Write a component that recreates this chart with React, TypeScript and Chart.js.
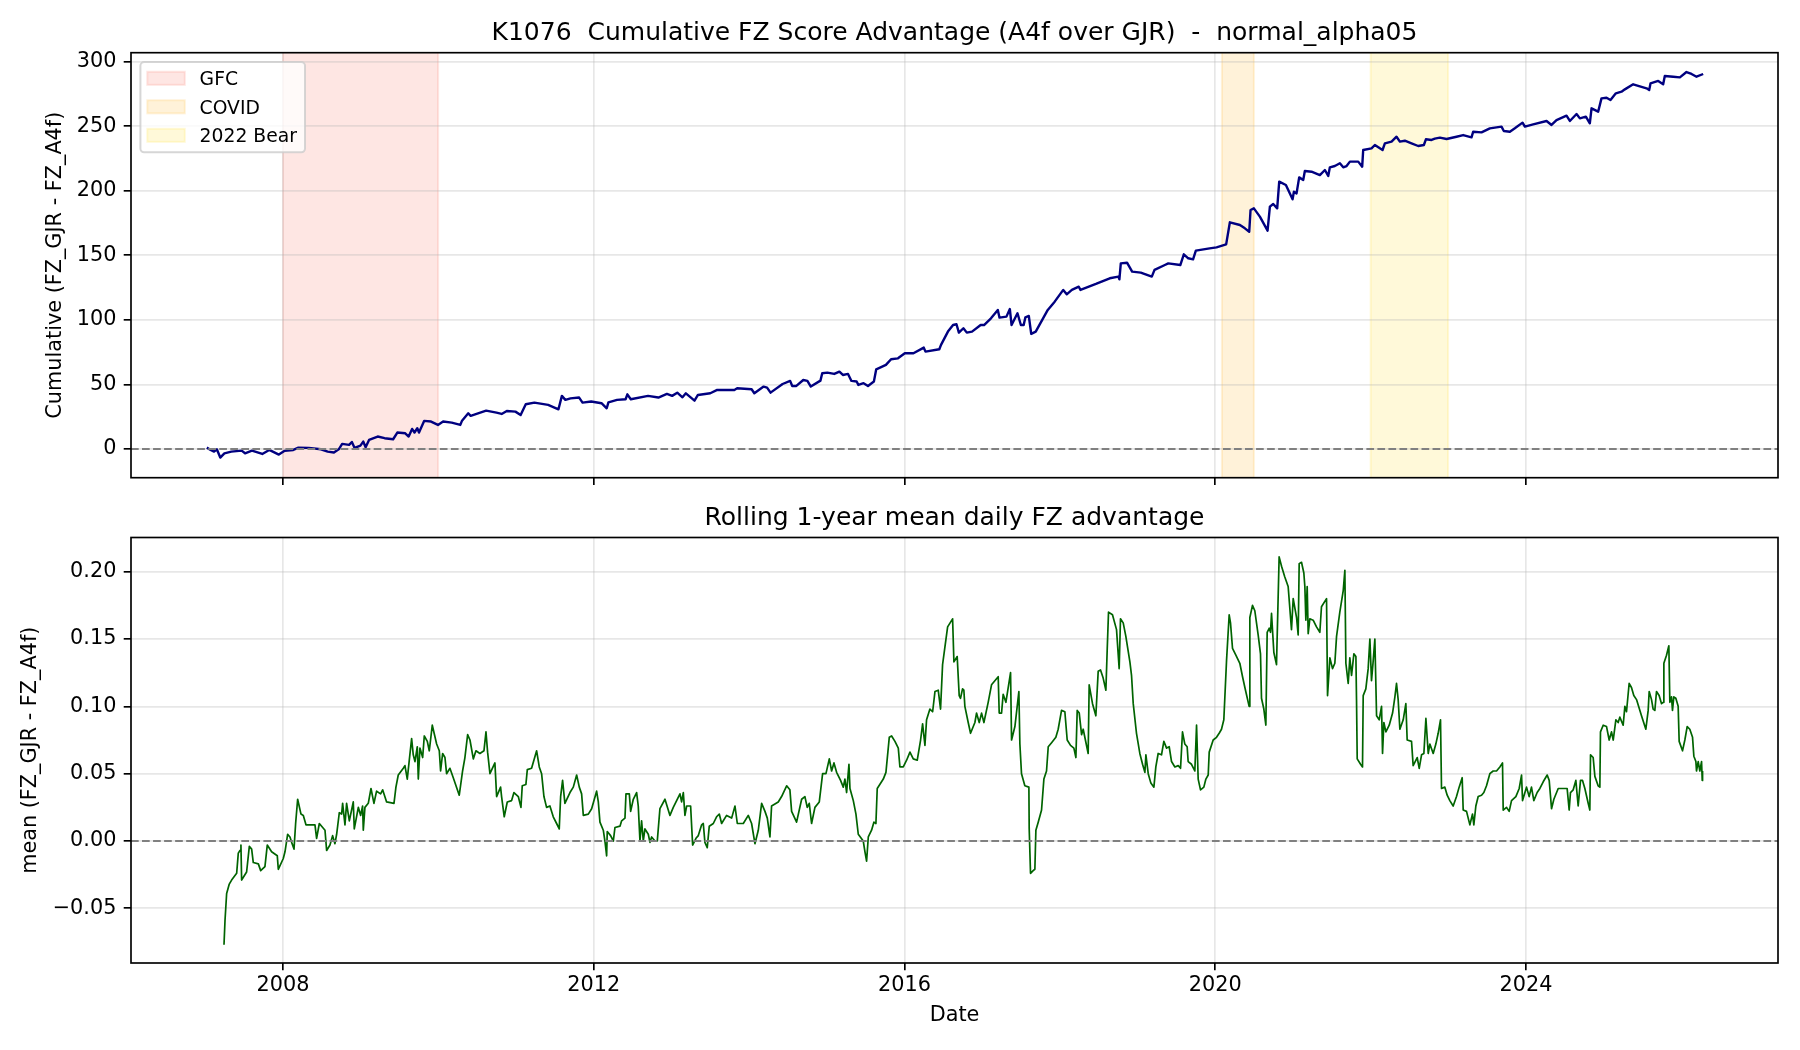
import React, { useEffect, useRef } from "react";
import { Chart, registerables } from "chart.js";

Chart.register(...registerables);

const FONT_FAMILY = "'DejaVu Sans', 'Liberation Sans', sans-serif";
const GRID_COLOR = "rgba(176,176,176,0.3)";

// Shared x axis: decimal years
const xRange = [2006.044, 2027.243];
const xTickValues = [2008, 2012, 2016, 2020, 2024];
const xTickLabels = ["2008", "2012", "2016", "2020", "2024"];

// Upper panel y axis
const cumRange = [-22.3, 307.0];
const cumTickValues = [0, 50, 100, 150, 200, 250, 300];
const cumTickLabels = ["0", "50", "100", "150", "200", "250", "300"];

// Lower panel y axis
const rollRange = [-0.0906, 0.2254];
const rollTickValues = [-0.05, 0, 0.05, 0.1, 0.15, 0.2];
const rollTickLabels = ["\u22120.05", "0.00", "0.05", "0.10", "0.15", "0.20"];

// Shaded market regimes
const spanLabels = ["GFC", "COVID", "2022 Bear"];
const spanStarts = [2008.0, 2020.085, 2022.0];
const spanEnds = [2009.997, 2020.497, 2022.997];
const spanColors = ["rgba(250,128,114,0.2)", "rgba(255,165,0,0.15)", "rgba(255,215,0,0.15)"];

// Cumulative FZ advantage
const cumYears = [
  2007.02, 2007.069, 2007.113, 2007.149, 2007.193, 2007.246, 2007.335, 2007.468, 2007.512, 2007.601,
  2007.734, 2007.823, 2007.947, 2008.022, 2008.133, 2008.199, 2008.332, 2008.488, 2008.576, 2008.656,
  2008.718, 2008.762, 2008.851, 2008.887, 2008.922, 2008.997, 2009.033, 2009.064, 2009.108, 2009.219,
  2009.308, 2009.418, 2009.472, 2009.574, 2009.618, 2009.662, 2009.693, 2009.729, 2009.751, 2009.817,
  2009.906, 2009.995, 2010.061, 2010.172, 2010.283, 2010.305, 2010.385, 2010.416, 2010.615, 2010.748,
  2010.815, 2010.881, 2010.992, 2011.059, 2011.125, 2011.236, 2011.413, 2011.546, 2011.59, 2011.635,
  2011.701, 2011.812, 2011.856, 2011.967, 2012.1, 2012.167, 2012.189, 2012.3, 2012.41, 2012.433,
  2012.477, 2012.699, 2012.832, 2012.942, 2013.009, 2013.075, 2013.142, 2013.186, 2013.297, 2013.341,
  2013.5, 2013.589, 2013.81, 2013.846, 2014.032, 2014.067, 2014.187, 2014.231, 2014.276, 2014.431,
  2014.528, 2014.555, 2014.608, 2014.697, 2014.75, 2014.794, 2014.918, 2014.941, 2015.007, 2015.096,
  2015.162, 2015.207, 2015.273, 2015.317, 2015.384, 2015.406, 2015.473, 2015.53, 2015.606, 2015.636,
  2015.761, 2015.827, 2015.916, 2016.004, 2016.115, 2016.248, 2016.27, 2016.448, 2016.47, 2016.559,
  2016.625, 2016.669, 2016.7, 2016.758, 2016.802, 2016.869, 2016.98, 2017.024, 2017.113, 2017.201,
  2017.223, 2017.312, 2017.356, 2017.378, 2017.454, 2017.498, 2017.534, 2017.556, 2017.6, 2017.631,
  2017.689, 2017.844, 2017.933, 2018.043, 2018.088, 2018.154, 2018.243, 2018.265, 2018.464, 2018.642,
  2018.753, 2018.766, 2018.784, 2018.864, 2018.93, 2019.041, 2019.183, 2019.218, 2019.351, 2019.395,
  2019.55, 2019.595, 2019.652, 2019.714, 2019.75, 2019.927, 2020.016, 2020.14, 2020.188, 2020.317,
  2020.381, 2020.437, 2020.454, 2020.497, 2020.574, 2020.673, 2020.703, 2020.746, 2020.797, 2020.823,
  2020.909, 2020.995, 2021.012, 2021.046, 2021.08, 2021.132, 2021.153, 2021.239, 2021.346, 2021.411,
  2021.454, 2021.475, 2021.539, 2021.604, 2021.647, 2021.69, 2021.733, 2021.84, 2021.891, 2021.904,
  2022.011, 2022.054, 2022.153, 2022.183, 2022.269, 2022.333, 2022.376, 2022.44, 2022.526, 2022.612,
  2022.685, 2022.711, 2022.784, 2022.826, 2022.891, 2022.977, 2023.105, 2023.191, 2023.298, 2023.32,
  2023.427, 2023.534, 2023.684, 2023.714, 2023.792, 2023.856, 2023.955, 2023.985, 2024.092, 2024.264,
  2024.328, 2024.392, 2024.521, 2024.564, 2024.65, 2024.693, 2024.77, 2024.821, 2024.843, 2024.928,
  2024.971, 2025.036, 2025.087, 2025.156, 2025.229, 2025.272, 2025.379, 2025.551, 2025.585, 2025.602,
  2025.701, 2025.765, 2025.786, 2025.894, 2025.98, 2026.065, 2026.13, 2026.194, 2026.28,
];
const cumValues = [
  1.0, -0.8, -2.1, -0.3, -6.7, -3.4, -2.1, -1.3, -3.4, -1.3,
  -3.9, -0.8, -4.4, -1.5, -0.8, 1.0, 0.8, -0.3, -2.1, -2.8,
  -0.3, 3.9, 3.1, 5.4, 0.8, 2.6, 5.7, 1.3, 7.0, 9.6,
  8.3, 7.5, 12.7, 12.1, 9.6, 15.5, 12.7, 16.0, 12.7, 21.7,
  21.2, 18.6, 21.2, 20.4, 18.6, 21.9, 27.6, 25.6, 29.7, 28.1,
  27.1, 29.4, 28.9, 26.3, 34.6, 35.9, 34.1, 30.7, 41.1, 38.0,
  39.2, 39.8, 35.9, 36.7, 35.4, 31.5, 36.1, 38.0, 38.5, 42.3,
  38.5, 41.1, 39.8, 42.6, 41.1, 43.6, 40.0, 43.1, 37.4, 41.8,
  43.1, 45.7, 45.7, 47.0, 46.2, 43.1, 48.3, 47.5, 43.6, 50.3,
  52.7, 48.8, 48.8, 53.4, 52.7, 48.3, 52.9, 58.6, 59.1, 58.1,
  59.9, 57.3, 58.1, 52.7, 52.2, 49.6, 50.9, 48.8, 52.2, 61.7,
  65.1, 69.5, 70.2, 74.1, 74.1, 78.5, 75.4, 77.2, 80.6, 90.9,
  96.0, 96.6, 90.1, 93.5, 90.1, 90.9, 96.0, 96.0, 101.2, 107.7,
  101.7, 102.5, 108.4, 96.0, 105.1, 96.0, 96.0, 102.0, 103.0, 89.1,
  90.9, 107.7, 114.1, 123.2, 119.8, 123.2, 125.7, 123.2, 127.8, 132.2,
  133.5, 131.4, 143.8, 144.3, 137.4, 136.6, 133.5, 138.7, 142.5, 143.8,
  142.5, 150.8, 147.7, 146.9, 153.6, 155.4, 156.2, 158.5, 175.6, 173.5,
  170.9, 168.3, 185.1, 186.4, 180.0, 169.1, 187.7, 189.8, 186.4, 207.1,
  204.5, 193.4, 199.3, 198.0, 210.4, 208.4, 215.3, 214.8, 212.2, 216.1,
  211.5, 218.2, 219.2, 221.3, 218.2, 219.2, 222.6, 222.6, 218.7, 231.6,
  232.9, 235.5, 231.6, 236.8, 238.1, 241.9, 238.1, 238.8, 236.8, 234.7,
  235.5, 239.9, 239.4, 240.4, 241.2, 240.1, 241.9, 243.2, 241.4, 245.8,
  245.3, 248.4, 249.7, 246.3, 245.8, 248.4, 252.8, 249.7, 251.5, 254.1,
  251.0, 254.8, 258.2, 254.1, 259.5, 256.1, 257.4, 252.3, 263.9, 261.3,
  271.6, 272.1, 270.3, 275.5, 276.8, 278.6, 282.5, 279.4, 278.1, 283.2,
  285.1, 282.5, 288.9, 288.4, 287.9, 292.0, 290.5, 288.4, 290.5,
];

// Rolling 1-year mean of the daily FZ advantage
const rollYears = [
  2007.241, 2007.254, 2007.275, 2007.309, 2007.339, 2007.404, 2007.425, 2007.447, 2007.459, 2007.468,
  2007.532, 2007.567, 2007.597, 2007.618, 2007.683, 2007.713, 2007.768, 2007.798, 2007.854, 2007.927,
  2007.94, 2008.004, 2008.026, 2008.06, 2008.09, 2008.112, 2008.142, 2008.163, 2008.189, 2008.232,
  2008.262, 2008.296, 2008.412, 2008.433, 2008.468, 2008.541, 2008.562, 2008.605, 2008.639, 2008.669,
  2008.691, 2008.725, 2008.755, 2008.768, 2008.798, 2008.819, 2008.854, 2008.905, 2008.918, 2008.97,
  2009.0, 2009.025, 2009.034, 2009.055, 2009.098, 2009.133, 2009.171, 2009.205, 2009.257, 2009.283,
  2009.334, 2009.429, 2009.454, 2009.484, 2009.549, 2009.57, 2009.6, 2009.626, 2009.656, 2009.677,
  2009.699, 2009.729, 2009.742, 2009.763, 2009.798, 2009.819, 2009.858, 2009.883, 2009.922, 2009.978,
  2010.012, 2010.029, 2010.055, 2010.085, 2010.106, 2010.149, 2010.192, 2010.269, 2010.312, 2010.342,
  2010.377, 2010.407, 2010.45, 2010.484, 2010.535, 2010.587, 2010.613, 2010.634, 2010.664, 2010.728,
  2010.75, 2010.801, 2010.814, 2010.848, 2010.887, 2010.943, 2010.973, 2011.029, 2011.063, 2011.08,
  2011.127, 2011.145, 2011.2, 2011.265, 2011.299, 2011.329, 2011.359, 2011.393, 2011.436, 2011.479,
  2011.522, 2011.556, 2011.574, 2011.599, 2011.629, 2011.694, 2011.737, 2011.78, 2011.814, 2011.844,
  2011.866, 2011.93, 2011.973, 2012.037, 2012.059, 2012.08, 2012.123, 2012.144, 2012.166, 2012.174,
  2012.217, 2012.252, 2012.273, 2012.338, 2012.359, 2012.402, 2012.415, 2012.458, 2012.475, 2012.509,
  2012.552, 2012.573, 2012.595, 2012.616, 2012.638, 2012.659, 2012.702, 2012.724, 2012.745, 2012.788,
  2012.818, 2012.852, 2012.917, 2012.981, 2013.024, 2013.075, 2013.11, 2013.131, 2013.153, 2013.174,
  2013.196, 2013.247, 2013.273, 2013.316, 2013.346, 2013.389, 2013.41, 2013.431, 2013.461, 2013.487,
  2013.539, 2013.581, 2013.616, 2013.646, 2013.71, 2013.775, 2013.818, 2013.848, 2013.925, 2013.989,
  2014.032, 2014.075, 2014.118, 2014.161, 2014.204, 2014.234, 2014.268, 2014.289, 2014.375, 2014.418,
  2014.483, 2014.525, 2014.547, 2014.611, 2014.676, 2014.718, 2014.748, 2014.774, 2014.804, 2014.847,
  2014.903, 2014.946, 2014.989, 2015.032, 2015.062, 2015.092, 2015.126, 2015.177, 2015.212, 2015.233,
  2015.255, 2015.285, 2015.298, 2015.341, 2015.375, 2015.405, 2015.469, 2015.491, 2015.512, 2015.534,
  2015.576, 2015.606, 2015.632, 2015.649, 2015.727, 2015.761, 2015.804, 2015.834, 2015.877, 2015.92,
  2015.941, 2015.984, 2016.027, 2016.07, 2016.113, 2016.164, 2016.207, 2016.233, 2016.263, 2016.284,
  2016.327, 2016.362, 2016.392, 2016.434, 2016.464, 2016.49, 2016.52, 2016.555, 2016.619, 2016.636,
  2016.678, 2016.704, 2016.721, 2016.747, 2016.764, 2016.777, 2016.82, 2016.85, 2016.906, 2016.927,
  2016.962, 2016.992, 2017.022, 2017.077, 2017.12, 2017.206, 2017.219, 2017.249, 2017.27, 2017.305,
  2017.365, 2017.378, 2017.421, 2017.472, 2017.485, 2017.506, 2017.549, 2017.601, 2017.605, 2017.622,
  2017.656, 2017.678, 2017.691, 2017.721, 2017.764, 2017.794, 2017.828, 2017.85, 2017.893, 2017.948,
  2017.978, 2018.021, 2018.064, 2018.094, 2018.137, 2018.18, 2018.206, 2018.223, 2018.249, 2018.279,
  2018.3, 2018.364, 2018.377, 2018.42, 2018.463, 2018.493, 2018.523, 2018.557, 2018.592, 2018.609,
  2018.626, 2018.677, 2018.729, 2018.763, 2018.78, 2018.815, 2018.849, 2018.901, 2018.922, 2018.944,
  2018.986, 2019.029, 2019.064, 2019.094, 2019.107, 2019.137, 2019.171, 2019.21, 2019.235, 2019.265,
  2019.308, 2019.338, 2019.373, 2019.407, 2019.437, 2019.48, 2019.523, 2019.553, 2019.578, 2019.608,
  2019.638, 2019.651, 2019.694, 2019.737, 2019.759, 2019.78, 2019.81, 2019.853, 2019.879, 2019.909,
  2019.922, 2019.973, 2020.016, 2020.05, 2020.08, 2020.11, 2020.145, 2020.179, 2020.196, 2020.222,
  2020.265, 2020.316, 2020.351, 2020.381, 2020.436, 2020.445, 2020.479, 2020.509, 2020.552, 2020.582,
  2020.595, 2020.625, 2020.651, 2020.668, 2020.694, 2020.711, 2020.724, 2020.754, 2020.788, 2020.822,
  2020.853, 2020.895, 2020.938, 2020.981, 2021.003, 2021.046, 2021.067, 2021.08, 2021.11, 2021.14,
  2021.153, 2021.166, 2021.183, 2021.196, 2021.217, 2021.26, 2021.303, 2021.346, 2021.367, 2021.432,
  2021.445, 2021.475, 2021.509, 2021.539, 2021.561, 2021.603, 2021.647, 2021.668, 2021.681, 2021.711,
  2021.732, 2021.754, 2021.784, 2021.81, 2021.818, 2021.827, 2021.87, 2021.895, 2021.904, 2021.938,
  2021.968, 2021.99, 2022.011, 2022.033, 2022.054, 2022.076, 2022.11, 2022.14, 2022.153, 2022.17,
  2022.196, 2022.239, 2022.282, 2022.312, 2022.333, 2022.354, 2022.376, 2022.419, 2022.453, 2022.47,
  2022.526, 2022.547, 2022.599, 2022.625, 2022.655, 2022.685, 2022.711, 2022.741, 2022.762, 2022.805,
  2022.839, 2022.869, 2022.899, 2022.912, 2022.955, 2022.985, 2023.019, 2023.062, 2023.105, 2023.139,
  2023.178, 2023.191, 2023.234, 2023.277, 2023.311, 2023.328, 2023.354, 2023.384, 2023.427, 2023.457,
  2023.491, 2023.534, 2023.577, 2023.62, 2023.663, 2023.697, 2023.706, 2023.749, 2023.783, 2023.813,
  2023.869, 2023.912, 2023.942, 2023.955, 2024.006, 2024.04, 2024.07, 2024.1, 2024.143, 2024.178,
  2024.221, 2024.272, 2024.298, 2024.328, 2024.358, 2024.414, 2024.478, 2024.529, 2024.555, 2024.572,
  2024.607, 2024.641, 2024.671, 2024.701, 2024.727, 2024.757, 2024.8, 2024.821, 2024.83, 2024.864,
  2024.886, 2024.928, 2024.95, 2024.958, 2024.993, 2025.036, 2025.07, 2025.1, 2025.122, 2025.156,
  2025.186, 2025.207, 2025.25, 2025.272, 2025.293, 2025.327, 2025.357, 2025.387, 2025.422, 2025.486,
  2025.542, 2025.572, 2025.585, 2025.615, 2025.636, 2025.658, 2025.679, 2025.713, 2025.744, 2025.765,
  2025.774, 2025.808, 2025.838, 2025.851, 2025.872, 2025.885, 2025.902, 2025.928, 2025.958, 2025.971,
  2026.014, 2026.044, 2026.074, 2026.108, 2026.143, 2026.16, 2026.186, 2026.194, 2026.216, 2026.237,
  2026.259, 2026.268, 2026.272,
];
const rollValues = [
  -0.077, -0.059, -0.039, -0.032, -0.029, -0.024, -0.009, -0.007, -0.003, -0.029,
  -0.023, -0.004, -0.006, -0.016, -0.017, -0.022, -0.019, -0.003, -0.008, -0.011,
  -0.021, -0.013, -0.008, 0.005, 0.003, -0.001, -0.006, 0.013, 0.031, 0.02,
  0.019, 0.012, 0.012, 0.002, 0.013, 0.008, -0.007, -0.003, 0.004, -0.002,
  0.005, 0.021, 0.02, 0.028, 0.012, 0.028, 0.015, 0.029, 0.009, 0.025,
  0.019, 0.026, 0.008, 0.025, 0.028, 0.039, 0.028, 0.037, 0.035, 0.038,
  0.029, 0.028, 0.04, 0.049, 0.054, 0.056, 0.046, 0.06, 0.076, 0.064,
  0.059, 0.07, 0.046, 0.069, 0.062, 0.078, 0.074, 0.067, 0.086, 0.072,
  0.067, 0.052, 0.065, 0.062, 0.05, 0.054, 0.047, 0.034, 0.052, 0.062,
  0.079, 0.075, 0.061, 0.067, 0.065, 0.067, 0.081, 0.066, 0.05, 0.058,
  0.033, 0.04, 0.033, 0.018, 0.029, 0.03, 0.036, 0.033, 0.025, 0.041,
  0.042, 0.053, 0.054, 0.067, 0.055, 0.05, 0.033, 0.025, 0.026, 0.018,
  0.013, 0.009, 0.033, 0.045, 0.028, 0.036, 0.04, 0.049, 0.04, 0.035,
  0.019, 0.02, 0.024, 0.037, 0.029, 0.014, 0.008, 0.0, -0.011, 0.007,
  0.004, 0.0, 0.01, 0.011, 0.015, 0.017, 0.035, 0.035, 0.022, 0.031,
  0.036, 0.026, 0.0, 0.015, 0.0, 0.009, 0.005, -0.001, 0.003, 0.0,
  0.0, 0.024, 0.031, 0.019, 0.025, 0.031, 0.035, 0.029, 0.036, 0.019,
  0.026, 0.026, -0.003, 0.002, 0.004, 0.012, 0.013, -0.001, -0.005, 0.011,
  0.013, 0.018, 0.02, 0.013, 0.019, 0.017, 0.026, 0.013, 0.013, 0.019,
  0.013, -0.002, 0.008, 0.028, 0.022, 0.017, 0.003, 0.026, 0.029, 0.033,
  0.041, 0.038, 0.022, 0.014, 0.031, 0.033, 0.025, 0.028, 0.013, 0.025,
  0.029, 0.05, 0.05, 0.061, 0.052, 0.058, 0.051, 0.045, 0.04, 0.046,
  0.036, 0.057, 0.039, 0.03, 0.02, 0.005, 0.0, -0.008, -0.015, 0.003,
  0.008, 0.014, 0.013, 0.039, 0.046, 0.051, 0.077, 0.078, 0.074, 0.069,
  0.055, 0.055, 0.06, 0.066, 0.061, 0.06, 0.075, 0.087, 0.071, 0.09,
  0.098, 0.096, 0.111, 0.112, 0.098, 0.131, 0.144, 0.159, 0.165, 0.133,
  0.137, 0.108, 0.106, 0.113, 0.112, 0.1, 0.088, 0.08, 0.088, 0.095,
  0.088, 0.095, 0.088, 0.103, 0.116, 0.122, 0.095, 0.095, 0.109, 0.103,
  0.125, 0.075, 0.085, 0.111, 0.072, 0.05, 0.041, 0.04, 0.009, -0.024,
  -0.022, -0.021, 0.008, 0.014, 0.023, 0.046, 0.052, 0.07, 0.073, 0.077,
  0.083, 0.097, 0.096, 0.075, 0.071, 0.069, 0.062, 0.097, 0.095, 0.079,
  0.083, 0.065, 0.116, 0.102, 0.093, 0.126, 0.127, 0.121, 0.112, 0.142,
  0.17, 0.168, 0.157, 0.128, 0.165, 0.162, 0.152, 0.133, 0.123, 0.102,
  0.08, 0.065, 0.057, 0.051, 0.064, 0.05, 0.043, 0.04, 0.055, 0.065,
  0.064, 0.074, 0.069, 0.07, 0.059, 0.055, 0.056, 0.054, 0.081, 0.072,
  0.07, 0.059, 0.057, 0.052, 0.086, 0.046, 0.038, 0.04, 0.046, 0.049,
  0.066, 0.075, 0.077, 0.08, 0.083, 0.09, 0.134, 0.168, 0.162, 0.143,
  0.138, 0.132, 0.122, 0.114, 0.1, 0.166, 0.175, 0.171, 0.153, 0.139,
  0.106, 0.098, 0.086, 0.155, 0.158, 0.155, 0.169, 0.14, 0.131, 0.211,
  0.204, 0.196, 0.189, 0.157, 0.18, 0.166, 0.153, 0.206, 0.207, 0.199,
  0.189, 0.164, 0.189, 0.154, 0.165, 0.164, 0.159, 0.155, 0.174, 0.18,
  0.108, 0.136, 0.128, 0.132, 0.152, 0.17, 0.186, 0.201, 0.132, 0.117,
  0.136, 0.123, 0.139, 0.137, 0.105, 0.061, 0.057, 0.055, 0.108, 0.113,
  0.128, 0.15, 0.119, 0.134, 0.15, 0.093, 0.09, 0.1, 0.065, 0.088,
  0.081, 0.086, 0.095, 0.107, 0.117, 0.105, 0.083, 0.09, 0.102, 0.075,
  0.074, 0.056, 0.062, 0.054, 0.064, 0.065, 0.091, 0.065, 0.072, 0.065,
  0.072, 0.08, 0.09, 0.039, 0.04, 0.034, 0.03, 0.026, 0.033, 0.04,
  0.047, 0.023, 0.022, 0.012, 0.02, 0.012, 0.026, 0.033, 0.034, 0.036,
  0.041, 0.05, 0.052, 0.052, 0.055, 0.058, 0.023, 0.025, 0.022, 0.03,
  0.033, 0.039, 0.049, 0.03, 0.04, 0.033, 0.04, 0.03, 0.036, 0.039,
  0.044, 0.049, 0.045, 0.024, 0.031, 0.039, 0.039, 0.039, 0.023, 0.036,
  0.038, 0.045, 0.026, 0.045, 0.045, 0.039, 0.028, 0.023, 0.064, 0.062,
  0.048, 0.041, 0.04, 0.081, 0.086, 0.085, 0.075, 0.081, 0.075, 0.09,
  0.088, 0.092, 0.086, 0.1, 0.096, 0.117, 0.114, 0.108, 0.105, 0.093,
  0.083, 0.097, 0.111, 0.105, 0.098, 0.097, 0.111, 0.108, 0.102, 0.103,
  0.132, 0.138, 0.145, 0.103, 0.107, 0.097, 0.107, 0.106, 0.1, 0.074,
  0.067, 0.075, 0.085, 0.083, 0.077, 0.063, 0.059, 0.052, 0.059, 0.052,
  0.059, 0.045, 0.052,
];

const toPoints = (xs: number[], ys: number[]) => xs.map((x, i) => ({ x, y: ys[i] }));

type PanelOpts = { title: string; spans: boolean; legend: boolean };

// Regime shading, frame, legend and title for one panel
function panelDecor(opts: PanelOpts) {
  return {
    id: "panelDecor",
    beforeDraw(chart: any) {
      if (!opts.spans) return;
      const { ctx, chartArea: a } = chart;
      const xs = chart.scales.x;
      ctx.save();
      ctx.beginPath();
      ctx.rect(a.left, a.top, a.right - a.left, a.bottom - a.top);
      ctx.clip();
      spanStarts.forEach((s, i) => {
        const x0 = xs.getPixelForValue(s);
        const x1 = xs.getPixelForValue(spanEnds[i]);
        ctx.fillStyle = spanColors[i];
        ctx.fillRect(x0, a.top, x1 - x0, a.bottom - a.top);
        ctx.strokeStyle = spanColors[i];
        ctx.lineWidth = 2;
        ctx.strokeRect(x0, a.top - 5, x1 - x0, a.bottom - a.top + 10);
      });
      ctx.restore();
    },
    afterDatasetsDraw(chart: any) {
      const { ctx, chartArea: a } = chart;
      ctx.save();
      ctx.strokeStyle = "#000";
      ctx.lineWidth = 1.67;
      ctx.strokeRect(a.left, a.top, a.right - a.left, a.bottom - a.top);
      ctx.restore();
    },
    afterDraw(chart: any) {
      const { ctx, chartArea: a } = chart;
      ctx.save();
      ctx.fillStyle = "#000";
      ctx.font = `25px ${FONT_FAMILY}`;
      ctx.textAlign = "center";
      ctx.textBaseline = "alphabetic";
      ctx.fillText(opts.title, (a.left + a.right) / 2, a.top - 12.5);

      if (opts.legend) {
        const lx = a.left + 9.4;
        const ly = a.top + 9.4;
        const lw = 164.6;
        const lh = 90.2;
        ctx.beginPath();
        ctx.roundRect(lx, ly, lw, lh, 3.75);
        ctx.fillStyle = "rgba(255,255,255,0.8)";
        ctx.fill();
        ctx.strokeStyle = "rgba(204,204,204,0.8)";
        ctx.lineWidth = 2;
        ctx.stroke();
        ctx.font = `18.75px ${FONT_FAMILY}`;
        ctx.textAlign = "left";
        spanLabels.forEach((label, i) => {
          const cy = a.top + 25.6 + i * 28.5;
          ctx.fillStyle = spanColors[i];
          ctx.fillRect(lx + 6.9, cy - 6.55, 37.5, 13.1);
          ctx.strokeStyle = spanColors[i];
          ctx.lineWidth = 2;
          ctx.strokeRect(lx + 6.9, cy - 6.55, 37.5, 13.1);
          ctx.fillStyle = "#000";
          ctx.fillText(label, lx + 59.2, cy + 6.8);
        });
      }
      ctx.restore();
    },
  };
}

const tickFont = { family: FONT_FAMILY, size: 20.8 };

function xAxis(showLabels: boolean, height: number, title: string) {
  return {
    type: "linear",
    min: xRange[0],
    max: xRange[1],
    afterBuildTicks: (s: any) => {
      s.ticks = xTickValues.map((v) => ({ value: v }));
    },
    afterFit: (s: any) => {
      s.height = height;
      s.paddingLeft = 0;
      s.paddingRight = 0;
      s.paddingTop = 0;
      s.paddingBottom = 0;
    },
    ticks: {
      display: showLabels,
      autoSkip: false,
      maxRotation: 0,
      padding: 3.2,
      color: "#000",
      font: tickFont,
      callback: (_v: any, i: number) => xTickLabels[i],
    },
    grid: {
      color: GRID_COLOR,
      lineWidth: 1.67,
      drawTicks: true,
      tickLength: 7.29,
      tickColor: "#000",
      tickWidth: 1.67,
    },
    border: { display: false },
    title: {
      display: title !== "",
      text: title,
      color: "#000",
      font: tickFont,
      padding: { top: 0, bottom: 22.1 },
    },
  };
}

function yAxis(range: number[], values: number[], labels: string[], title: string, titlePad: number) {
  return {
    type: "linear",
    min: range[0],
    max: range[1],
    afterBuildTicks: (s: any) => {
      s.ticks = values.map((v) => ({ value: v }));
    },
    afterFit: (s: any) => {
      s.width = 131;
      s.paddingLeft = 0;
      s.paddingRight = 0;
      s.paddingTop = 0;
      s.paddingBottom = 0;
    },
    ticks: {
      autoSkip: false,
      padding: 7.3,
      color: "#000",
      font: tickFont,
      callback: (_v: any, i: number) => labels[i],
    },
    grid: {
      color: GRID_COLOR,
      lineWidth: 1.67,
      drawTicks: true,
      tickLength: 7.29,
      tickColor: "#000",
      tickWidth: 1.67,
    },
    border: { display: false },
    title: {
      display: true,
      text: title,
      color: "#000",
      font: tickFont,
      padding: { top: titlePad, bottom: 0 },
    },
  };
}

function zeroLine() {
  return {
    data: [
      { x: xRange[0], y: 0 },
      { x: xRange[1], y: 0 },
    ],
    borderColor: "#808080",
    borderWidth: 2.08,
    borderDash: [7.7, 3.33],
    pointRadius: 0,
  };
}

export default function App() {
  const topRef = useRef<HTMLCanvasElement>(null);
  const bottomRef = useRef<HTMLCanvasElement>(null);

  useEffect(() => {
    const charts: Chart[] = [];
    const common = {
      animation: false,
      responsive: false,
      devicePixelRatio: 1,
      events: [],
    };

    if (topRef.current) {
      charts.push(
        new Chart(topRef.current, {
          type: "line",
          data: {
            datasets: [
              zeroLine(),
              {
                data: toPoints(cumYears, cumValues),
                borderColor: "#000080",
                borderWidth: 2.4,
                pointRadius: 0,
                borderJoinStyle: "round",
                tension: 0,
              },
            ],
          },
          options: {
            ...common,
            layout: { padding: { left: 0, right: 22, top: 52.7, bottom: 0 } },
            plugins: { legend: { display: false }, tooltip: { enabled: false } },
            scales: {
              x: xAxis(false, 12.3, ""),
              y: yAxis(cumRange, cumTickValues, cumTickLabels, "Cumulative (FZ_GJR - FZ_A4f)", 43.5),
            },
          } as any,
          plugins: [
            panelDecor({
              title: "K1076  Cumulative FZ Score Advantage (A4f over GJR)  -  normal_alpha05",
              spans: true,
              legend: true,
            }),
          ],
        } as any)
      );
    }

    if (bottomRef.current) {
      charts.push(
        new Chart(bottomRef.current, {
          type: "line",
          data: {
            datasets: [
              zeroLine(),
              {
                data: toPoints(rollYears, rollValues),
                borderColor: "#006400",
                borderWidth: 1.7,
                pointRadius: 0,
                borderJoinStyle: "round",
                tension: 0,
              },
            ],
          },
          options: {
            ...common,
            layout: { padding: { left: 0, right: 22, top: 47.5, bottom: 0 } },
            plugins: { legend: { display: false }, tooltip: { enabled: false } },
            scales: {
              x: xAxis(true, 87, "Date"),
              y: yAxis(rollRange, rollTickValues, rollTickLabels, "mean (FZ_GJR - FZ_A4f)", 18.2),
            },
          } as any,
          plugins: [
            panelDecor({ title: "Rolling 1-year mean daily FZ advantage", spans: false, legend: false }),
          ],
        } as any)
      );
    }

    return () => charts.forEach((c) => c.destroy());
  }, []);

  return (
    <div style={{ position: "absolute", left: 0, top: 0, width: 1800, height: 1050, background: "#fff" }}>
      <canvas
        ref={topRef}
        width={1800}
        height={490}
        style={{ position: "absolute", left: 0, top: 0, width: 1800, height: 490 }}
      />
      <canvas
        ref={bottomRef}
        width={1800}
        height={560}
        style={{ position: "absolute", left: 0, top: 490, width: 1800, height: 560 }}
      />
    </div>
  );
}
